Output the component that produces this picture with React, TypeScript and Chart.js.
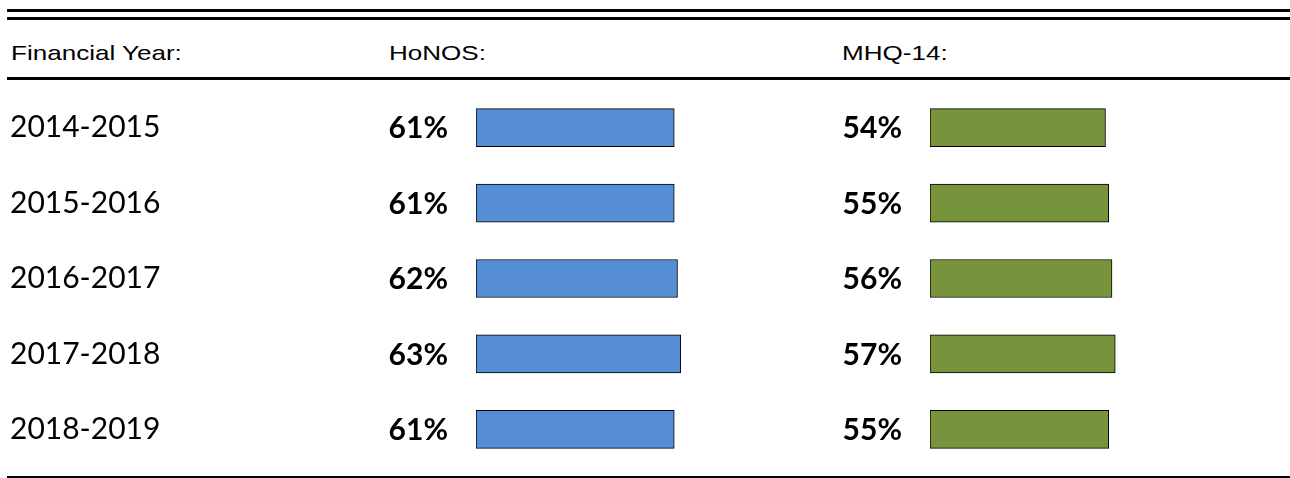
import React, { useEffect, useRef } from 'react';
import { Chart, registerables } from 'chart.js';

Chart.register(...registerables);

const headers = ['Financial Year:', 'HoNOS:', 'MHQ-14:'];
const years = ['2014-2015', '2015-2016', '2016-2017', '2017-2018', '2018-2019'];
const honos = [61, 61, 62, 63, 61];
const mhq = [54, 55, 56, 57, 55];

const valueLabels = {
  id: 'valueLabels',
  afterDatasetsDraw(chart: any) {
    const { ctx, chartArea } = chart;
    const meta = chart.getDatasetMeta(0);
    const data = chart.data.datasets[0].data;
    ctx.save();
    ctx.font = 'bold 30px Lato';
    ctx.fillStyle = '#000';
    ctx.textAlign = 'right';
    ctx.textBaseline = 'middle';
    meta.data.forEach((bar: any, i: number) => {
      ctx.fillText(data[i] + '%', chartArea.left - 28, bar.y + 1);
    });
    ctx.restore();
  },
};

function makeConfig(values: number[], color: string, showYears: boolean, axisWidth: number, padLeft: number) {
  return {
    type: 'bar' as const,
    data: {
      labels: years,
      datasets: [
        {
          data: values,
          backgroundColor: color,
          borderColor: '#000',
          borderWidth: 1,
          borderSkipped: false,
          barThickness: 38,
        },
      ],
    },
    options: {
      indexAxis: 'y' as const,
      animation: false as const,
      responsive: false,
      maintainAspectRatio: false,
      layout: { padding: { left: padLeft, top: 0, right: 0, bottom: 0 } },
      plugins: { legend: { display: false }, tooltip: { enabled: false } },
      scales: {
        x: { display: false, min: 0, max: 80 },
        y: {
          display: true,
          grid: { display: false },
          border: { display: false },
          ticks: {
            display: showYears,
            autoSkip: false,
            crossAlign: 'far' as const,
            padding: 0,
            color: '#000',
            font: { family: 'Lato', size: 30, lineHeight: 0 },
          },
          afterFit: (s: any) => {
            s.width = axisWidth;
            s.paddingTop = 0;
            s.paddingBottom = 0;
          },
        },
      },
    },
    plugins: [valueLabels],
  };
}

function BarCanvas(props: { values: number[]; color: string; showYears: boolean; axisWidth: number; padLeft: number; left: number; width: number }) {
  const ref = useRef<HTMLCanvasElement>(null);
  useEffect(() => {
    if (!ref.current) return;
    const chart = new Chart(ref.current, makeConfig(props.values, props.color, props.showYears, props.axisWidth, props.padLeft) as any);
    return () => chart.destroy();
  }, []);
  return (
    <canvas
      ref={ref}
      width={props.width}
      height={377}
      style={{ position: 'absolute', left: props.left, top: 90, width: props.width, height: 377 }}
    />
  );
}

const rule = (top: number, h: number): React.CSSProperties => ({
  position: 'absolute',
  left: 7,
  right: 0,
  top,
  height: h,
  background: '#000',
});

const headStyle = (left: number): React.CSSProperties => ({
  position: 'absolute',
  left,
  top: 41,
  fontFamily: '"Liberation Sans", Arial, sans-serif',
  fontSize: 21,
  lineHeight: '24px',
  color: '#000',
  whiteSpace: 'nowrap',
  transform: 'scaleX(1.24)',
  transformOrigin: 'left center',
});

export default function App() {
  return (
    <div style={{ position: 'fixed', left: 0, top: 0, width: 1290, height: 478, background: '#fff', overflow: 'hidden' }}>
      <div style={rule(9, 3)} />
      <div style={rule(17, 3)} />
      <div style={headStyle(11)}>{headers[0]}</div>
      <div style={headStyle(389)}>{headers[1]}</div>
      <div style={headStyle(842)}>{headers[2]}</div>
      <div style={rule(77, 3)} />
      <BarCanvas values={honos} color="#558ED5" showYears={true} axisWidth={466} padLeft={10} left={0} width={736} />
      <BarCanvas values={mhq} color="#77933C" showYears={false} axisWidth={194} padLeft={0} left={736} width={454} />
      <div style={rule(476, 2)} />
    </div>
  );
}
